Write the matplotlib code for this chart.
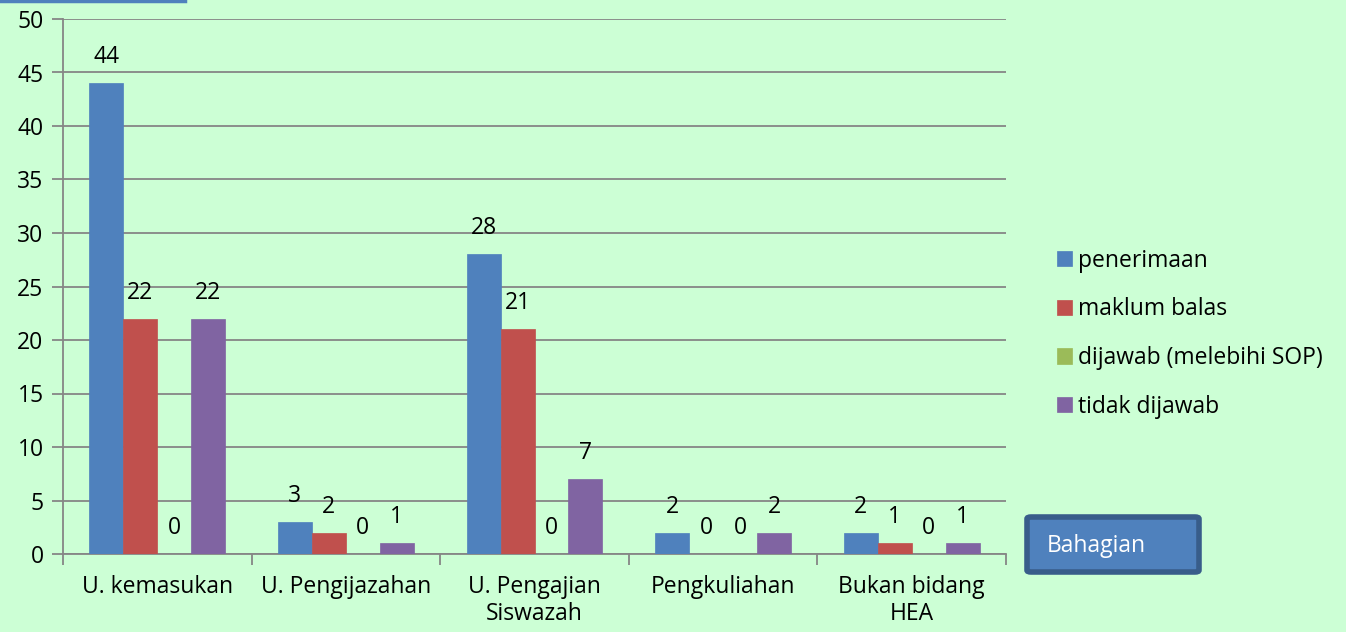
import matplotlib
matplotlib.use("Agg")
import matplotlib.pyplot as plt
import numpy as np
from matplotlib.patches import FancyBboxPatch
from matplotlib.lines import Line2D

categories = ["U. kemasukan", "U. Pengijazahan", "U. Pengajian\nSiswazah", "Pengkuliahan", "Bukan bidang\nHEA"]
series_names = ["penerimaan", "maklum balas", "dijawab (melebihi SOP)", "tidak dijawab"]
penerimaan = [44, 3, 28, 2, 2]
maklum_balas = [22, 2, 21, 0, 1]
dijawab = [0, 0, 0, 0, 0]
tidak_dijawab = [22, 1, 7, 2, 1]
colors = ["#4F81BD", "#C0504D", "#9BBB59", "#8064A2"]

plt.rcParams['font.family'] = ['Open Sans', 'DejaVu Sans']
FS = 16.5
bg = "#CCFFD5"
fig = plt.figure(figsize=(13.46, 6.32), dpi=100, facecolor=bg)
ax = fig.add_axes([63/1346, 1-554/632, (1006-63)/1346, (554-19)/632])
ax.set_facecolor(bg)

series = [penerimaan, maklum_balas, dijawab, tidak_dijawab]
x = np.arange(len(categories))
w = 0.18
handles = []
for i, (name, vals, c) in enumerate(zip(series_names, series, colors)):
    pos = x + (i - 1.5) * w
    b = ax.bar(pos, vals, w, color=c, label=name, zorder=3, edgecolor=c, linewidth=0.5)
    handles.append(b)
    for p, v in zip(pos, vals):
        ax.text(p, v + 1.3, str(v), ha='center', va='bottom', fontsize=FS, color='black')

ax.set_xlim(-0.5, len(categories) - 0.5)
ax.set_ylim(0, 50)
ax.set_yticks(np.arange(0, 51, 5))
ax.tick_params(axis='y', labelsize=FS, length=8, color='#868686', width=1.3, pad=6)
ax.yaxis.grid(True, color='#868686', linewidth=1.3, zorder=0)
ax.set_xticks(np.arange(-0.5, len(categories), 1.0))
ax.set_xticklabels([])
ax.set_xticks(x, minor=True)
ax.set_xticklabels(categories, minor=True, fontsize=FS, linespacing=1.15)
ax.tick_params(axis='x', which='major', length=8, color='#868686', width=1.3)
ax.tick_params(axis='x', which='minor', length=0, pad=15)
for s in ['top', 'right']:
    ax.spines[s].set_visible(False)
for s in ['left', 'bottom']:
    ax.spines[s].set_color('#868686')
    ax.spines[s].set_linewidth(1.3)

leg = fig.legend(handles=handles, labels=series_names, loc='upper left',
                 bbox_to_anchor=(1036/1346, 1-228/632), frameon=False, fontsize=FS,
                 handlelength=0.65, handleheight=0.65, handletextpad=0.3, labelspacing=1.08)

box = FancyBboxPatch((1027/1346, 1-572/632), 172/1346, 55/632,
                     boxstyle="round,pad=0,rounding_size=0.003", transform=fig.transFigure,
                     facecolor="#4F81BD", edgecolor="#385D8A", linewidth=4)
fig.patches.append(box)
fig.text(1047/1346, 1-546/632, "Bahagian", color='white', fontsize=FS, va='center', ha='left')

fig.lines.append(Line2D([0, 185/1346], [1-1/632, 1-1/632], transform=fig.transFigure,
                        color="#4F81BD", linewidth=2.5))

fig.savefig("out.png", dpi=100, facecolor=bg)
